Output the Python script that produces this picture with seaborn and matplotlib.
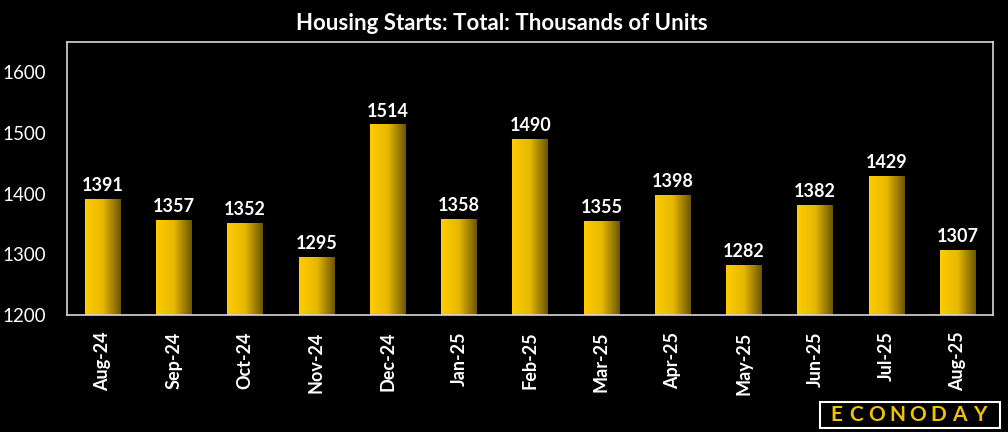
import numpy as np
import pandas as pd
import matplotlib
matplotlib.use("Agg")
import matplotlib.pyplot as plt
import seaborn as sns
from matplotlib.colors import LinearSegmentedColormap
from matplotlib.patches import Rectangle

# Data
months = ["Aug-24", "Sep-24", "Oct-24", "Nov-24", "Dec-24", "Jan-25", "Feb-25",
          "Mar-25", "Apr-25", "May-25", "Jun-25", "Jul-25", "Aug-25"]
starts = [1391, 1357, 1352, 1295, 1514, 1358, 1490, 1355, 1398, 1282, 1382, 1429, 1307]

df = pd.DataFrame({"month": months, "starts": starts})

sns.set_style("dark")
plt.rcParams["font.family"] = ["Lato", "DejaVu Sans"]

fig = plt.figure(figsize=(10.08, 4.32), dpi=100, facecolor="black")
ax = fig.add_axes([0.0665, 0.271, 0.919, 0.632])
ax.set_facecolor("black")

sns.barplot(data=df, x="month", y="starts", ax=ax, width=0.5, color="#ffcc00",
            edgecolor="none", saturation=1)

# gradient fill for each bar
grad_cmap = LinearSegmentedColormap.from_list("gold", ["#ffcc00", "#e6b800", "#6b5500"])
grad = np.linspace(0, 1, 256).reshape(1, -1)
for patch in list(ax.patches):
    x0, y0 = patch.get_x(), patch.get_y()
    w, h = patch.get_width(), patch.get_height()
    im = ax.imshow(grad, cmap=grad_cmap, aspect="auto",
                   extent=[x0, x0 + w, 1200, y0 + h], zorder=2)
    im.set_clip_path(patch)
    patch.set_facecolor("none")

ax.set_xlim(-0.5, len(months) - 0.5)
ax.set_ylim(1200, 1650)

# value labels
for i, v in enumerate(starts):
    ax.text(i, v + 8, str(v), ha="center", va="bottom", color="white",
            fontsize=13, fontweight="bold", zorder=3)

for s in ax.spines.values():
    s.set_visible(True)
    s.set_color("#d8d8d8")
    s.set_linewidth(1.2)

ax.grid(False)
ax.set_yticks([1200, 1300, 1400, 1500, 1600])
ax.tick_params(axis="y", colors="#d8d8d8", length=5, width=1, labelcolor="white",
               labelsize=13.5, direction="out", pad=10)
ax.set_xticks(range(len(months)))
ax.set_xticklabels(months, rotation=90, color="white", fontsize=13, fontweight="bold")
ax.tick_params(axis="x", which="major", length=0, pad=12)
ax.set_xticks(np.arange(-0.5, len(months), 1.0), minor=True)
ax.tick_params(axis="x", which="minor", length=5, width=1, color="#d8d8d8", direction="out")
ax.set_xlabel("")
ax.set_ylabel("")

fig.text(0.498, 0.945, "Housing Starts: Total: Thousands of Units", ha="center",
         va="center", color="white", fontsize=16, fontweight="bold")

# logo
fig.patches.append(Rectangle((820 / 1008, 4 / 432), 180 / 1008, 26 / 432,
                             transform=fig.transFigure, facecolor="black",
                             edgecolor="white", linewidth=1.5))
for k, ch in enumerate("ECONODAY"):
    fig.text((836 + k * 20.5) / 1008, 17 / 432, ch, ha="center", va="center",
             color="#f2c200", fontsize=15, fontweight="bold")

fig.savefig("out.png", dpi=100, facecolor="black")
